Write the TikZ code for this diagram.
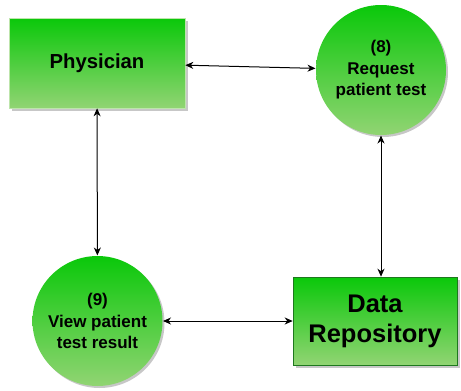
\documentclass[tikz,border=0pt]{standalone}
\usepackage{fontspec}
\setmainfont{Liberation Sans}
\usetikzlibrary{arrows.meta,shadows}

\definecolor{gtop}{RGB}{10,200,10}
\definecolor{gbot}{RGB}{145,212,115}
\definecolor{gline}{RGB}{30,120,30}

\tikzstyle{actor}=[rectangle,top color=gtop,bottom color=gbot,draw=gbot!60,line width=0.6pt,
	drop shadow={shadow xshift=2.5pt,shadow yshift=-2.5pt,fill=black!22,opacity=1}]
\tikzstyle{proc}=[circle,top color=gtop,bottom color=gbot,minimum size=130pt,inner sep=0pt,align=center,
	font=\fontsize{17}{21.5}\selectfont\bfseries,
	drop shadow={shadow xshift=2pt,shadow yshift=-2pt,fill=black!22,opacity=1}]

\begin{document}
\begin{tikzpicture}[x=1pt,y=-1pt,>={Stealth[length=8pt,width=7pt,inset=2.5pt]},line width=1pt]
	\useasboundingbox (0,0) rectangle (461,391);

	\node (P) at (97,63) [actor,minimum width=176pt,minimum height=90pt,
		font=\fontsize{20.3}{24}\selectfont\bfseries] {Physician};

	\node (R) at (381,70) [proc] {(8)\\Request\\patient test};
	\node (V) at (97.5,321) [proc] {(9)\\View patient\\test result};

	\node (D) at (375,321) [actor,draw=gline,minimum width=164pt,minimum height=88pt,align=center,
		font=\fontsize{25.5}{30}\selectfont\bfseries] {Data\\Repository};

	\draw [<->] (P) to (R);
	\draw [<->] (P) to (V);
	\draw [<->] (R.south) to (R.south |- D.north);
	\draw [<->] (V) to (D);

\end{tikzpicture}
\end{document}
